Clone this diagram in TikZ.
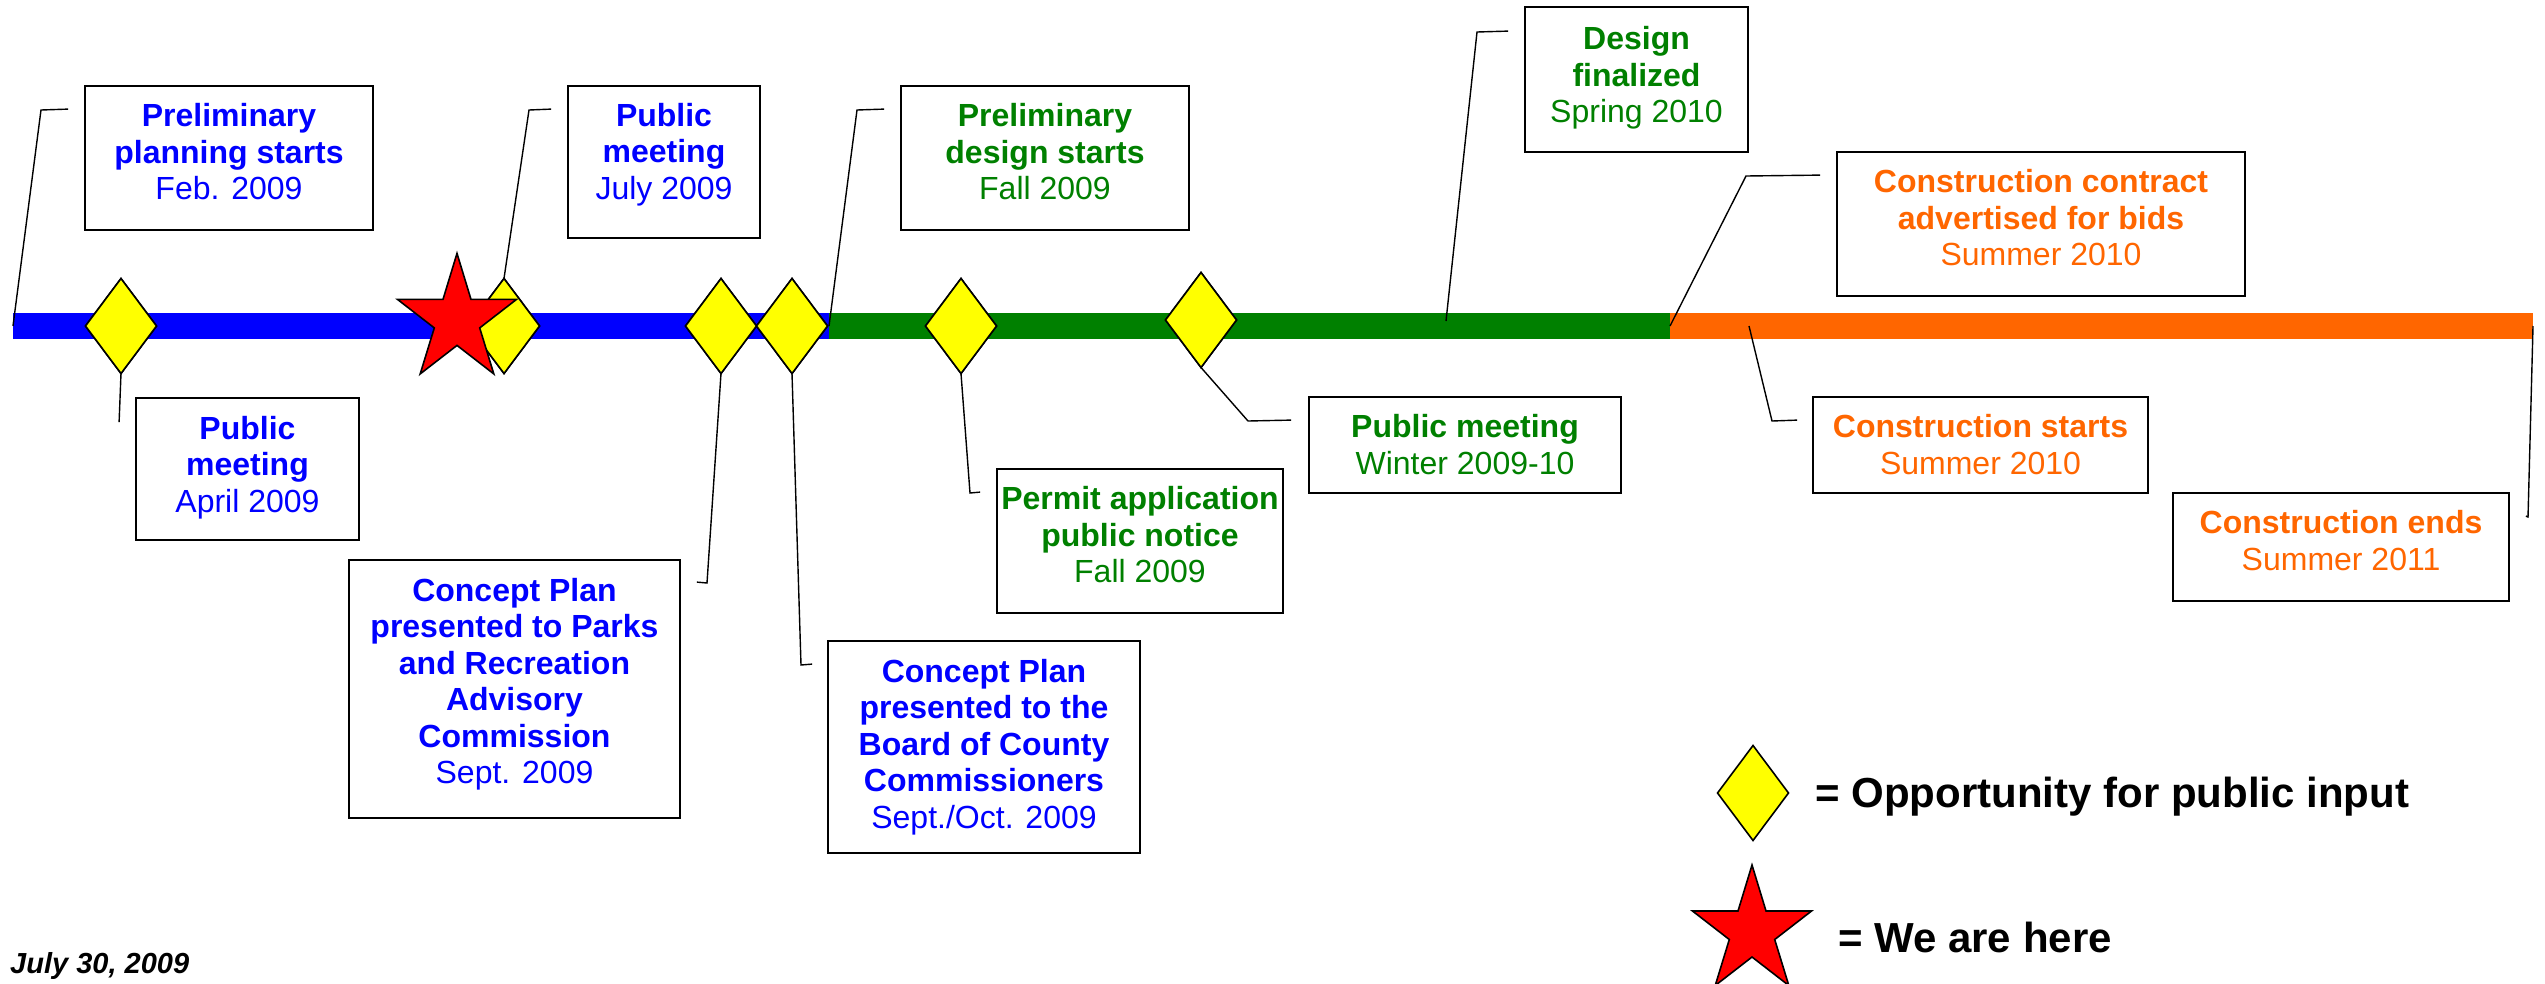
\documentclass[tikz,border=0pt]{standalone}
\usepackage{fontspec}
\setmainfont{Liberation Sans}
\usetikzlibrary{shapes.geometric}
\definecolor{tlblue}{RGB}{0,0,255}
\definecolor{tlgreen}{RGB}{0,128,0}
\definecolor{tlorange}{RGB}{255,102,0}
\definecolor{tlyellow}{RGB}{255,255,0}
\definecolor{tlred}{RGB}{255,0,0}
\newcommand\hb[1]{\textbf{#1}}
\begin{document}
\begin{tikzpicture}[x=1pt,y=-1pt,
  barseg/.style={inner sep=0pt,outer sep=0pt,minimum height=26pt,anchor=west,draw=none},
  evbox/.style={draw=black,line width=1.8pt,inner sep=0pt,fill=white},
  evtext/.style={inner sep=0pt,align=center,font=\fontsize{32}{36.5}\selectfont},
  leader/.style={draw=black,line width=1.4pt,line join=miter},
  opp/.style={diamond,draw=black,line width=1.6pt,fill=tlyellow,inner sep=0pt,outer sep=0pt,minimum width=71pt,minimum height=95pt},
  legtext/.style={inner sep=0pt,anchor=base west,font=\fontsize{42}{48}\selectfont\bfseries},
  redstar/.pic={\draw[fill=tlred,line width=1.6pt,line join=miter]
     (0,-66.6) -- (14,-20.6) -- (59.5,-20.6) -- (22.7,7.9) -- (36.8,53.9) -- (0,25.4)
     -- (-36.8,53.9) -- (-22.7,7.9) -- (-59.5,-20.6) -- (-14,-20.6) -- cycle;}
]
\useasboundingbox (0,0) rectangle (2545,983);

% timeline bar
\node[barseg,fill=tlblue,minimum width=816pt] (barB) at (13,326) {};
\node[barseg,fill=tlgreen,minimum width=841pt] (barG) at (829,326) {};
\node[barseg,fill=tlorange,minimum width=863pt] (barO) at (1670,326) {};

% boxes
\node[evbox,minimum width=288pt,minimum height=144pt] (bA) at (229,158) {};
\node[evbox,minimum width=192pt,minimum height=152pt] (bB) at (664,162) {};
\node[evbox,minimum width=223pt,minimum height=142pt] (bC) at (247.5,469) {};
\node[evbox,minimum width=331pt,minimum height=258pt] (bParks) at (514.5,689) {};
\node[evbox,minimum width=312pt,minimum height=212pt] (bBoard) at (984,747) {};
\node[evbox,minimum width=288pt,minimum height=144pt] (bPrelim) at (1045,158) {};
\node[evbox,minimum width=286pt,minimum height=144pt] (bPermit) at (1140,541) {};
\node[evbox,minimum width=223pt,minimum height=145pt] (bDesign) at (1636.5,79.5) {};
\node[evbox,minimum width=312pt,minimum height=96pt] (bWinter) at (1465,445) {};
\node[evbox,minimum width=408pt,minimum height=144pt] (bContract) at (2041,224) {};
\node[evbox,minimum width=335pt,minimum height=96pt] (bStarts) at (1980.5,445) {};
\node[evbox,minimum width=336pt,minimum height=108pt] (bEnds) at (2341,547) {};

% box texts
\node[evtext,text=tlblue] (tA) at (229,152) {\hb{Preliminary}\\\hb{planning starts}\\Feb. 2009};
\node[evtext,text=tlblue] (tB) at (664,154.5) {\hb{Public}\\\hb{meeting}\\July 2009};
\node[evtext,text=tlblue] (tC) at (247.5,467.5) {\hb{Public}\\\hb{meeting}\\April 2009};
\node[evtext,text=tlblue] (tParks) at (514.5,684) {\hb{Concept Plan}\\\hb{presented to Parks}\\\hb{and Recreation}\\\hb{Advisory}\\\hb{Commission}\\Sept. 2009};
\node[evtext,text=tlblue] (tBoard) at (984,747) {\hb{Concept Plan}\\\hb{presented to the}\\\hb{Board of County}\\\hb{Commissioners}\\Sept./Oct. 2009};
\node[evtext,text=tlgreen] (tPrelim) at (1045,152) {\hb{Preliminary}\\\hb{design starts}\\Fall 2009};
\node[evtext,text=tlgreen] (tPermit) at (1140,535) {\hb{Permit application}\\\hb{public notice}\\Fall 2009};
\node[evtext,text=tlgreen] (tDesign) at (1636.5,78) {\hb{Design}\\\hb{finalized}\\Spring 2010};
\node[evtext,text=tlgreen] (tWinter) at (1465,444.5) {\hb{Public meeting}\\Winter 2009-10};
\node[evtext,text=tlorange] (tContract) at (2041,218) {\hb{Construction contract}\\\hb{advertised for bids}\\Summer 2010};
\node[evtext,text=tlorange] (tStarts) at (1980.5,444.5) {\hb{Construction starts}\\Summer 2010};
\node[evtext,text=tlorange] (tEnds) at (2341,540.5) {\hb{Construction ends}\\Summer 2011};

% diamonds on the bar
\node[opp] (d1) at (121,326) {};
\node[opp] (d2) at (504,326) {};
\node[opp] (d3) at (721,326) {};
\node[opp] (d4) at (792,326) {};
\node[opp] (d5) at (961,326) {};
\node[opp] (d6) at (1201,320) {};

% leader end points (16pt from the box edge, 24pt below its top)
\coordinate (kA) at ([shift={(-16,24)}]bA.north west);
\coordinate (kB) at ([shift={(-16,24)}]bB.north west);
\coordinate (kC) at ([shift={(-16,25)}]bC.north west);
\coordinate (kParks) at ([shift={(16,23)}]bParks.north east);
\coordinate (kBoard) at ([shift={(-15,24)}]bBoard.north west);
\coordinate (kPrelim) at ([shift={(-16,24)}]bPrelim.north west);
\coordinate (kPermit) at ([shift={(-16,24)}]bPermit.north west);
\coordinate (kDesign) at ([shift={(-16,25)}]bDesign.north west);
\coordinate (kWinter) at ([shift={(-17,24)}]bWinter.north west);
\coordinate (kContract) at ([shift={(-16,24)}]bContract.north west);
\coordinate (kStarts) at ([shift={(-15,24)}]bStarts.north west);
\coordinate (kEnds) at ([shift={(16,24)}]bEnds.north east);
\coordinate (pDesign) at (1446,321);
\coordinate (pStarts) at (1749,326);

% leaders
\draw[leader] (barB.west) -- (41,110) -- (kA);
\draw[leader] (d2.north) -- (529,110) -- (kB);
\draw[leader] (d1.south) -- (kC);
\draw[leader] (d3.south) -- (707,583) -- (kParks);
\draw[leader] (d4.south) -- (801,665) -- (kBoard);
\draw[leader] (barB.east) -- (857,110) -- (kPrelim);
\draw[leader] (d5.south) -- (970,493) -- (kPermit);
\draw[leader] (pDesign) -- (1477,32) -- (kDesign);
\draw[leader] (d6.south) -- (1248,421) -- (kWinter);
\draw[leader] (barG.east) -- (1746,176) -- (kContract);
\draw[leader] (pStarts) -- (1772,421) -- (kStarts);
\draw[leader] (barO.east) -- (2528,517) -- (kEnds);

% redraw diamonds over leaders
\node[opp] at (d1) {};
\node[opp] at (d2) {};
\node[opp] at (d3) {};
\node[opp] at (d4) {};
\node[opp] at (d5) {};
\node[opp] at (d6) {};

% we are here
\pic at (457,320) {redstar};

% legend
\node[opp] (dL) at (1753,793) {};
\node[legtext] (lOpp) at (1815,807) {= Opportunity for public input};
\pic at (1752,931.6) {redstar};
\node[legtext] (lHere) at (1838,952) {= We are here};

% date
\node[inner sep=0pt,anchor=base west,font=\fontsize{29}{34}\selectfont\bfseries\itshape] (date) at (10,973) {July 30, 2009};
\end{tikzpicture}
\end{document}
